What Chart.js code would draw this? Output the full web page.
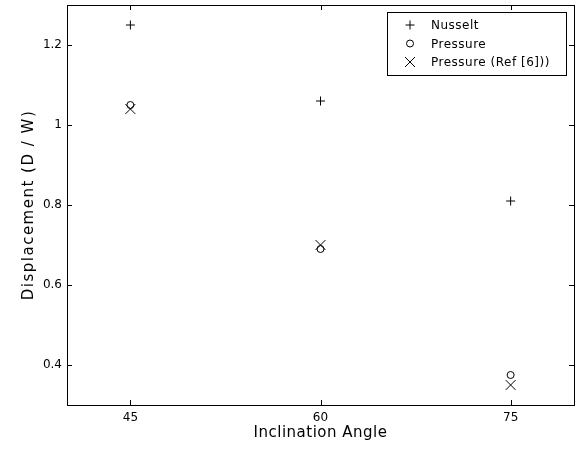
<!DOCTYPE html>
<html>
<head>
<meta charset="utf-8">
<script src="https://cdn.jsdelivr.net/npm/chart.js@4"></script>
<style>
  html, body { margin: 0; padding: 0; background: #fff; }
  #wrap { width: 582px; height: 451px; }
</style>
</head>
<body>
<div id="wrap"><canvas id="chart" width="582" height="451"></canvas></div>
<script>
// angles (x) and values
const angulos = [45, 60, 75];
const nusselt = [1.25, 1.06, 0.81];
const pressao = [1.05, 0.69, 0.375];
const pressaoRef6 = [1.04, 0.70, 0.35];

const xTicks = [45, 60, 75];
const yTicks = [0.4, 0.6, 0.8, 1, 1.2];

const nomes = ["Nusselt", "Pressure", "Pressure (Ref [6]))"];
const tituloX = "Inclination Angle";
const tituloY = "Displacement (D / W)";
const FONTE = "'DejaVu Sans', sans-serif";

function pontos(ys) {
  return angulos.map((x, i) => ({ x, y: ys[i] }));
}

// ======================
// PLUGIN: box, inward ticks, titles, legend
// ======================

const estiloMatlab = {
  id: "estiloMatlab",
  afterDraw(chart) {
    const { ctx, chartArea: a, scales } = chart;
    ctx.save();
    ctx.strokeStyle = "#000";
    ctx.lineWidth = 1;
    ctx.strokeRect(Math.round(a.left) + 0.5, Math.round(a.top) + 0.5,
      Math.round(a.right - a.left), Math.round(a.bottom - a.top));

    const len = 5;
    ctx.beginPath();
    xTicks.forEach(v => {
      const px = Math.round(scales.x.getPixelForValue(v)) + 0.5;
      ctx.moveTo(px, a.bottom); ctx.lineTo(px, a.bottom - len);
      ctx.moveTo(px, a.top); ctx.lineTo(px, a.top + len);
    });
    yTicks.forEach(v => {
      const py = Math.round(scales.y.getPixelForValue(v)) + 0.5;
      ctx.moveTo(a.left, py); ctx.lineTo(a.left + len, py);
      ctx.moveTo(a.right, py); ctx.lineTo(a.right - len, py);
    });
    ctx.stroke();

    // axis titles
    ctx.fillStyle = "#000";
    ctx.textAlign = "center";
    ctx.textBaseline = "alphabetic";
    ctx.font = "15px " + FONTE;
    ctx.letterSpacing = "0.5px";
    ctx.fillText(tituloX, (a.left + a.right) / 2, 437);
    ctx.save();
    ctx.translate(33, (a.top + a.bottom) / 2);
    ctx.rotate(-Math.PI / 2);
    ctx.letterSpacing = "1.5px";
    ctx.fillText(tituloY, 0, 0);
    ctx.restore();

    // legend
    const lx = 387, ly = 12, lw = 179, lh = 63;
    ctx.fillStyle = "#fff";
    ctx.fillRect(lx, ly, lw, lh);
    ctx.strokeRect(lx + 0.5, ly + 0.5, lw, lh);
    ctx.font = "12px " + FONTE;
    ctx.letterSpacing = "0.5px";
    ctx.fillStyle = "#000";
    ctx.textAlign = "left";
    ctx.textBaseline = "middle";
    chart.data.datasets.forEach((ds, i) => {
      const y = ly + 13 + i * 18.5;
      const mx = 410;
      ctx.beginPath();
      if (ds.pointStyle === "cross") {
        ctx.moveTo(mx - 4.5, y); ctx.lineTo(mx + 4.5, y);
        ctx.moveTo(mx, y - 4.5); ctx.lineTo(mx, y + 4.5);
      } else if (ds.pointStyle === "circle") {
        ctx.arc(mx, y, 3.5, 0, Math.PI * 2);
      } else {
        ctx.moveTo(mx - 5, y - 5); ctx.lineTo(mx + 5, y + 5);
        ctx.moveTo(mx + 5, y - 5); ctx.lineTo(mx - 5, y + 5);
      }
      ctx.stroke();
      ctx.fillText(ds.label, 431, y + 1);
    });
    ctx.restore();
  }
};

// ======================
// CHART
// ======================

new Chart(document.getElementById("chart"), {
  type: "scatter",
  data: {
    datasets: [
      { label: nomes[0], data: pontos(nusselt), pointStyle: "cross", pointRadius: 4.5 },
      { label: nomes[1], data: pontos(pressao), pointStyle: "circle", pointRadius: 3.5 },
      { label: nomes[2], data: pontos(pressaoRef6), pointStyle: "crossRot", pointRadius: 7 }
    ].map(ds => Object.assign(ds, {
      borderColor: "#000",
      backgroundColor: "rgba(0,0,0,0)",
      borderWidth: 1,
      pointHoverRadius: ds.pointRadius
    }))
  },
  options: {
    responsive: false,
    animation: false,
    layout: { autoPadding: false, padding: { top: 5, right: 8, left: 0, bottom: 0 } },
    plugins: {
      legend: { display: false },
      tooltip: { enabled: false }
    },
    scales: {
      x: {
        type: "linear",
        min: 40,
        max: 80,
        afterBuildTicks: s => { s.ticks = xTicks.map(value => ({ value })); },
        afterFit: s => { s.height = 46; s.paddingLeft = 0; s.paddingRight = 0; },
        grid: { display: false, drawTicks: false },
        border: { display: false },
        ticks: { color: "#000", padding: 6, font: { family: FONTE, size: 12 } }
      },
      y: {
        type: "linear",
        min: 0.3,
        max: 1.3,
        afterBuildTicks: s => { s.ticks = yTicks.map(value => ({ value })); },
        afterFit: s => { s.width = 67; s.paddingTop = 0; s.paddingBottom = 0; },
        grid: { display: false, drawTicks: false },
        border: { display: false },
        ticks: { color: "#000", padding: 5, font: { family: FONTE, size: 12 },
          callback: v => String(v) }
      }
    }
  },
  plugins: [estiloMatlab]
});
</script>
</body>
</html>
